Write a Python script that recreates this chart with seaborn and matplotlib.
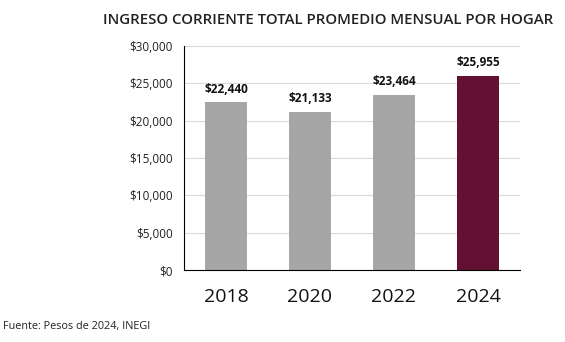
import matplotlib
matplotlib.use("Agg")
import matplotlib.pyplot as plt
import seaborn as sns
import pandas as pd
from matplotlib.ticker import FuncFormatter

years = ["2018", "2020", "2022", "2024"]
values = [22440, 21133, 23464, 25955]
colors = ["#A6A6A6", "#A6A6A6", "#A6A6A6", "#621132"]
title = "INGRESO CORRIENTE TOTAL PROMEDIO MENSUAL POR HOGAR"
source = "Fuente: Pesos de 2024, INEGI"

sns.set_theme(style="white")
plt.rcParams['font.family'] = ['Open Sans', 'DejaVu Sans']

df = pd.DataFrame({"year": years, "value": values})
fig = plt.figure(figsize=(5.65, 3.42), dpi=100)
ax = fig.add_axes([184/565, 1-270/342, 336/565, 224/342])
sns.barplot(data=df, x="year", y="value", hue="year", palette=colors,
            width=0.5, legend=False, ax=ax, saturation=1, linewidth=0)
ax.set_xlim(-0.5, 3.5)
ax.set_ylim(0, 30000)
ax.set_yticks(range(0, 30001, 5000))
ax.yaxis.set_major_formatter(FuncFormatter(lambda v, p: f"${int(v):,}"))
ax.grid(axis="y", color="#D9D9D9", linewidth=0.8)
ax.set_axisbelow(True)
for s in ["top", "right"]:
    ax.spines[s].set_visible(False)
ax.spines["left"].set_color("black")
ax.spines["bottom"].set_color("black")
ax.spines["left"].set_linewidth(0.8)
ax.spines["bottom"].set_linewidth(0.8)
ax.set_xlabel("")
ax.set_ylabel("")
ax.tick_params(axis="y", labelsize=8.5, length=0, pad=8, colors="#222222")
ax.tick_params(axis="x", labelsize=14, length=0, pad=13, colors="#111111")
for i, v in enumerate(values):
    ax.annotate(f"${v:,}", (i, v), xytext=(0, 5), textcoords="offset points",
                ha="center", va="bottom", fontsize=8.5, fontweight="bold", color="#111111")
fig.text(328/565, 1-20/342, title, ha="center", va="center", fontsize=10.8,
         fontweight="semibold", color="#222222")
fig.text(3/565, 1-326/342, source, ha="left", va="center", fontsize=7.8, color="#222222")
fig.savefig("out.png", dpi=100)
